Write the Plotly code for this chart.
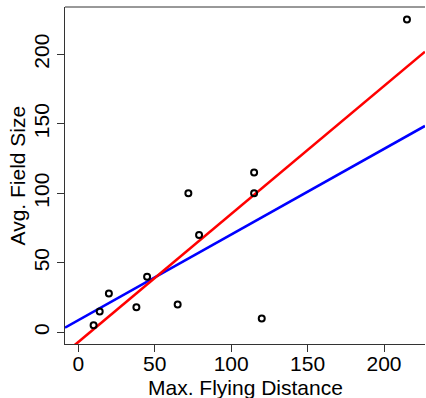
import numpy as np
import plotly.graph_objects as go

# Data
max_flying_distance = [10, 14, 20, 38, 45, 65, 72, 79, 115, 115, 120, 215]
avg_field_size = [5, 15, 28, 18, 40, 20, 100, 70, 115, 100, 10, 225]

# Fitted lines (intercept, slope)
line_names = ["fit_blue", "fit_red"]
line_intercepts = [8.7, -7.0]
line_slopes = [0.616, 0.921]
line_colors = ["#0000FF", "#FF0000"]

x_ticks = [0, 50, 100, 150, 200]
y_ticks = [0, 50, 100, 150, 200]
x_range = [-8.7, 226.8]
y_range = [-8.4, 234]

x_title = "Max. Flying Distance"
y_title = "Avg. Field Size"

fig = go.Figure()

xs = np.array(x_range)
for name, b0, b1, col in zip(line_names, line_intercepts, line_slopes, line_colors):
    fig.add_trace(go.Scatter(x=xs, y=b0 + b1 * xs, mode="lines", name=name,
                             line=dict(color=col, width=2.6), showlegend=False))

fig.add_trace(go.Scatter(x=max_flying_distance, y=avg_field_size, mode="markers",
                         marker=dict(symbol="circle-open", size=6, color="black",
                                     line=dict(width=2, color="black")),
                         showlegend=False))

font = dict(family="Liberation Sans, Arial, sans-serif", size=21, color="black")

fig.update_layout(
    width=426, height=398,
    margin=dict(l=65, r=1, t=7, b=54),
    plot_bgcolor="white", paper_bgcolor="white",
    font=font,
    xaxis=dict(range=x_range, tickvals=x_ticks, showgrid=False, zeroline=False,
               showline=True, linecolor="#333", linewidth=1, automargin=False,
               ticks="outside", ticklen=7, tickcolor="#333", tickfont=font,
               ticklabelstandoff=-6),
    yaxis=dict(range=y_range, tickvals=y_ticks, showgrid=False, zeroline=False,
               showline=True, linecolor="#333", linewidth=1, automargin=False,
               ticks="outside", ticklen=7, tickcolor="#333", tickangle=-90,
               tickfont=font),
)
fig.add_shape(type="line", xref="paper", yref="paper", x0=0, x1=1, y0=1, y1=1,
              line=dict(color="#333", width=1))
fig.add_annotation(text=x_title, xref="paper", yref="paper", x=0.5, y=0,
                   xanchor="center", yanchor="middle", yshift=-43,
                   showarrow=False, font=font)
fig.add_annotation(text=y_title, xref="paper", yref="paper", x=0, y=0.5,
                   xanchor="center", yanchor="middle", xshift=-48, textangle=-90,
                   showarrow=False, font=font)

fig.write_html("out.html", config={"displayModeBar": False})

# remove the default page margin so the figure sits at the window's corner
with open("out.html", encoding="utf-8") as f:
    html = f.read()
html = html.replace("<body>", '<body style="margin:0;padding:0;overflow:hidden">', 1)
html = html.replace("<head>", "<head><style>html,body{margin:0;padding:0;}</style>", 1)
with open("out.html", "w", encoding="utf-8") as f:
    f.write(html)
